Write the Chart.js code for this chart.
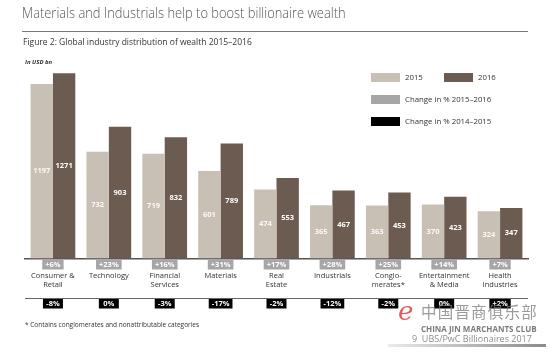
<!DOCTYPE html>
<html lang="en">
<head>
<meta charset="UTF-8">
<title>Global industry distribution of wealth</title>
<script src="https://cdn.jsdelivr.net/npm/chart.js@4.4.1/dist/chart.umd.min.js"></script>
<style>
  body { margin:0; background:#fff; font-family:"Open Sans", sans-serif; }
  #page { position:relative; width:556px; height:352px; overflow:hidden; }
  #wrap { position:absolute; left:0; top:0; width:556px; height:352px; }
  .abs { position:absolute; white-space:nowrap; }
  #title { left:22px; top:2px; font-size:15px; color:#555; font-weight:300; transform:scaleX(0.86); transform-origin:left top; }
  #rule { left:22px; top:31px; width:506px; height:1px; background:#777; }
  #sub { left:23px; top:36px; font-size:8.5px; color:#333; }
  #unit { left:25px; top:58px; font-size:6px; font-weight:bold; font-style:italic; color:#333; }
  .sw { position:absolute; width:29px; height:9px; }
  .lg { font-size:7.8px; color:#333; }
  #note { left:25px; top:320px; font-size:6.5px; color:#333; }
  #wm1 { left:421px; top:300px; font-size:15.5px; color:rgba(120,120,120,0.75); font-family:"Noto Sans CJK SC"; letter-spacing:1.2px; }
  #wm2 { left:421px; top:323px; font-size:8px; color:rgba(90,90,90,0.8); font-weight:bold; }
  #wm3 { left:412px; top:332px; font-size:9px; color:rgba(110,110,110,0.8); }
  #wmbar { left:388px; top:344px; width:158px; height:3px; background:linear-gradient(to right, rgba(150,150,150,0.2), rgba(110,110,110,0.8)); }
  #wme { left:398px; top:296px; font-size:26px; color:rgba(220,50,50,0.8); font-style:italic; font-family:"DejaVu Serif"; }
</style>
</head>
<body>
<div id="page">
  <div id="wrap"><canvas id="chart"></canvas></div>
  <div class="abs" id="title">Materials and Industrials help to boost billionaire wealth</div>
  <div class="abs" id="rule"></div>
  <div class="abs" id="sub">Figure 2: Global industry distribution of wealth 2015–2016</div>
  <div class="abs" id="unit">In USD bn</div>

  <div class="sw" style="left:371px;top:73px;background:#c8bfb5"></div>
  <div class="abs lg" style="left:405px;top:72px">2015</div>
  <div class="sw" style="left:444px;top:73px;background:#6b5b50"></div>
  <div class="abs lg" style="left:478px;top:72px">2016</div>
  <div class="sw" style="left:371px;top:95px;background:#a6a6a6"></div>
  <div class="abs lg" style="left:405px;top:94px">Change in % 2015–2016</div>
  <div class="sw" style="left:371px;top:117px;background:#000"></div>
  <div class="abs lg" style="left:405px;top:116px">Change in % 2014–2015</div>

  <div class="abs" id="note">* Contains conglomerates and nonattributable categories</div>

  <div class="abs" id="wme">e</div>
  <div class="abs" id="wm1">中国晋商俱乐部</div>
  <div class="abs" id="wm2">CHINA JIN MARCHANTS CLUB</div>
  <div class="abs" id="wm3">9 &nbsp;UBS/PwC Billionaires 2017</div>
  <div class="abs" id="wmbar"></div>
</div>

<script>
  // data
  var categories = [
    ['Consumer &', 'Retail'], 'Technology', ['Financial', 'Services'], 'Materials',
    ['Real', 'Estate'], 'Industrials', ['Conglo-', 'merates*'],
    ['Entertainment', '& Media'], ['Health', 'Industries']
  ];
  var wealth2015 = [1197, 732, 719, 601, 474, 365, 363, 370, 324];
  var wealth2016 = [1271, 903, 832, 789, 553, 467, 453, 423, 347];
  var change1516 = ['+6%', '+23%', '+16%', '+31%', '+17%', '+28%', '+25%', '+14%', '+7%'];
  var change1415 = ['-8%', '0%', '-3%', '-17%', '-2%', '-12%', '-2%', '0%', '+2%'];

  var boxFont = 'bold 7.5px "Open Sans", sans-serif';

  function drawBox(ctx, cx, top, text, bg) {
    ctx.font = boxFont;
    var w = Math.max(20, ctx.measureText(text).width + 6);
    ctx.fillStyle = bg;
    ctx.fillRect(cx - w / 2, top, w, 9.5);
    ctx.fillStyle = '#fff';
    ctx.fillText(text, cx, top + 5);
  }

  var extras = {
    id: 'extras',
    afterDatasetsDraw: function(chart) {
      var ctx = chart.ctx;
      var xs = chart.scales.x;
      var area = chart.chartArea;
      ctx.save();
      ctx.textAlign = 'center';
      ctx.textBaseline = 'middle';
      // values inside the bars
      chart.data.datasets.forEach(function(ds, di) {
        chart.getDatasetMeta(di).data.forEach(function(bar, i) {
          ctx.font = 'bold 7.5px "Open Sans", sans-serif';
          ctx.fillStyle = di === 0 ? '#fbf9f7' : '#ffffff';
          ctx.fillText(ds.data[i], bar.x, (bar.y + bar.base) / 2);
        });
      });
      // change boxes
      var lineY = area.bottom + 40;
      ctx.strokeStyle = '#666';
      ctx.lineWidth = 1;
      ctx.beginPath();
      ctx.moveTo(area.left, lineY);
      ctx.lineTo(area.right, lineY);
      ctx.stroke();
      categories.forEach(function(c, i) {
        var cx = xs.getPixelForValue(i);
        drawBox(ctx, cx, area.bottom + 1.5, change1516[i], '#a6a6a6');
        drawBox(ctx, cx, lineY + 0.5, change1415[i], '#000');
      });
      ctx.restore();
    }
  };

  new Chart(document.getElementById('chart'), {
    type: 'bar',
    data: {
      labels: categories,
      datasets: [
        { label: '2015', data: wealth2015, backgroundColor: '#c8bfb5' },
        { label: '2016', data: wealth2016, backgroundColor: '#6b5b50' }
      ]
    },
    options: {
      responsive: true,
      maintainAspectRatio: false,
      animation: false,
      datasets: { bar: { categoryPercentage: 0.8, barPercentage: 1.0 } },
      layout: { padding: { left: 25, right: 28, top: 69, bottom: 50 } },
      plugins: { legend: { display: false }, tooltip: { enabled: false } },
      scales: {
        x: {
          grid: { display: false, drawTicks: false },
          border: { display: true, color: '#555', width: 1.5 },
          ticks: {
            padding: 12, color: '#333', maxRotation: 0, autoSkip: false,
            font: { family: '"Open Sans", sans-serif', size: 7.5, lineHeight: 1.3 }
          }
        },
        y: { display: false, min: 0, max: 1300 }
      }
    },
    plugins: [extras]
  });
</script>
</body>
</html>
